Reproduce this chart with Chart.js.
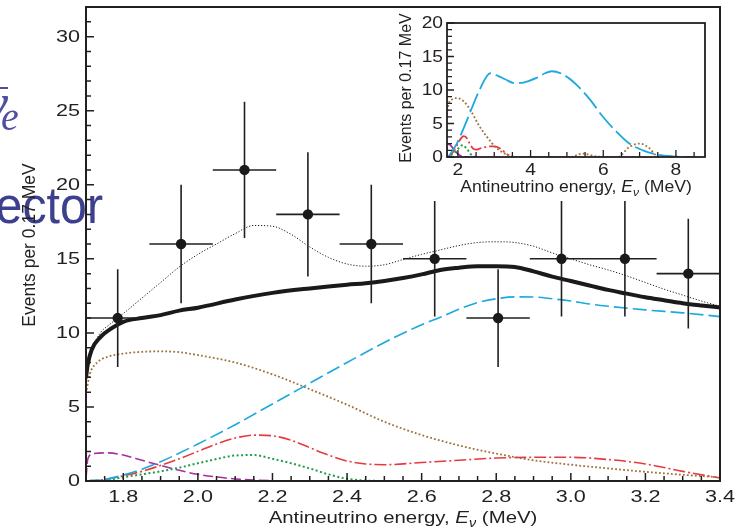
<!DOCTYPE html>
<html><head><meta charset="utf-8">
<script src="https://cdn.jsdelivr.net/npm/chart.js@4/dist/chart.umd.min.js"></script>
<style>
html,body{margin:0;padding:0;background:#fff;overflow:hidden}
#wrap{position:relative;width:748px;height:529px;background:#fff}
#main{position:absolute;left:0;top:0}
#inset{position:absolute;left:380px;top:0}
</style></head>
<body><div id="wrap"><canvas id="main" width="748" height="529"></canvas><canvas id="inset" width="340" height="200"></canvas></div>
<script>
// ---------- data ----------
const xTickLabels = [1.8, 2.0, 2.2, 2.4, 2.6, 2.8, 3.0, 3.2, 3.4];
const yTickLabels = [0, 5, 10, 15, 20, 25, 30];
const insetXTickLabels = [2, 4, 6, 8];
const insetYTickLabels = [0, 5, 10, 15, 20];

const binCenters = [1.785, 1.955, 2.125, 2.295, 2.465, 2.635, 2.805, 2.975, 3.145, 3.315];
const observedEvents = [11, 16, 21, 18, 16, 15, 11, 15, 15, 14];
const eventErrors = [3.3, 4.0, 4.6, 4.2, 4.0, 3.9, 3.3, 3.9, 3.9, 3.7];
const binHalfWidth = 0.085;

const totalX = [1.70, 1.705, 1.715, 1.74, 1.765, 1.80, 1.85, 1.90, 1.95, 2.00, 2.10, 2.20, 2.30, 2.40, 2.45, 2.50, 2.55, 2.60, 2.65, 2.70, 2.75, 2.80, 2.85, 2.90, 2.95, 3.00, 3.05, 3.10, 3.15, 3.20, 3.25, 3.30, 3.35, 3.40];
const totalY = [7.0, 7.9, 8.85, 9.75, 10.25, 10.75, 11.0, 11.2, 11.5, 11.7, 12.25, 12.7, 13.0, 13.25, 13.35, 13.5, 13.7, 13.95, 14.25, 14.4, 14.5, 14.5, 14.45, 14.15, 13.8, 13.5, 13.2, 12.9, 12.65, 12.4, 12.2, 12.0, 11.85, 11.72];

const oscX = [1.70, 1.705, 1.715, 1.74, 1.76, 1.80, 1.85, 1.90, 1.95, 2.00, 2.05, 2.10, 2.15, 2.20, 2.25, 2.30, 2.35, 2.40, 2.45, 2.50, 2.55, 2.60, 2.65, 2.70, 2.75, 2.80, 2.85, 2.90, 2.95, 3.00, 3.05, 3.10, 3.15, 3.20, 3.25, 3.30, 3.35, 3.40];
const oscY = [7.0, 7.9, 8.85, 10.05, 10.5, 11.3, 12.35, 13.4, 14.45, 15.3, 16.0, 16.7, 17.25, 17.2, 16.65, 15.8, 15.1, 14.65, 14.5, 14.6, 14.95, 15.3, 15.6, 15.9, 16.1, 16.15, 16.1, 15.85, 15.4, 15.0, 14.6, 14.25, 13.85, 13.4, 12.95, 12.55, 12.15, 11.8];

const reactorX = [1.70, 1.75, 1.80, 1.85, 1.90, 2.00, 2.10, 2.20, 2.30, 2.40, 2.50, 2.60, 2.65, 2.70, 2.75, 2.80, 2.85, 2.90, 2.95, 3.00, 3.05, 3.10, 3.20, 3.30, 3.40];
const reactorY = [0.0, 0.1, 0.4, 0.8, 1.3, 2.5, 3.8, 5.2, 6.6, 8.0, 9.35, 10.55, 11.05, 11.6, 12.05, 12.3, 12.43, 12.42, 12.3, 12.15, 11.95, 11.8, 11.55, 11.35, 11.1];

const alphaNX = [1.70, 1.71, 1.73, 1.76, 1.80, 1.85, 1.90, 1.95, 2.00, 2.10, 2.20, 2.30, 2.40, 2.50, 2.60, 2.70, 2.80, 2.90, 3.00, 3.10, 3.20, 3.30, 3.40];
const alphaNY = [5.9, 7.2, 8.0, 8.4, 8.6, 8.72, 8.75, 8.7, 8.5, 8.0, 7.2, 6.2, 5.15, 4.0, 3.1, 2.4, 1.85, 1.4, 1.1, 0.85, 0.62, 0.42, 0.25];

const uraniumX = [1.70, 1.75, 1.80, 1.85, 1.90, 1.95, 2.00, 2.05, 2.10, 2.15, 2.20, 2.25, 2.30, 2.35, 2.40, 2.45, 2.50, 2.60, 2.70, 2.80, 2.90, 3.00, 3.10, 3.20, 3.30, 3.40];
const uraniumY = [0.0, 0.1, 0.35, 0.65, 1.05, 1.5, 2.0, 2.5, 2.9, 3.1, 3.05, 2.75, 2.25, 1.75, 1.35, 1.15, 1.1, 1.25, 1.4, 1.55, 1.6, 1.6, 1.45, 1.15, 0.65, 0.2];

const thoriumX = [1.70, 1.75, 1.80, 1.85, 1.90, 1.95, 2.00, 2.05, 2.10, 2.15, 2.20, 2.25, 2.30, 2.35, 2.40, 2.45, 2.50];
const thoriumY = [0.0, 0.05, 0.25, 0.45, 0.65, 0.9, 1.2, 1.48, 1.72, 1.75, 1.5, 1.2, 0.85, 0.45, 0.15, 0.03, 0.0];

const purpleX = [1.70, 1.705, 1.72, 1.76, 1.80, 1.85, 1.90, 1.95, 2.00, 2.05, 2.10, 2.15, 2.20, 2.30];
const purpleY = [0.2, 1.5, 1.85, 1.9, 1.75, 1.4, 1.05, 0.72, 0.45, 0.27, 0.14, 0.06, 0.02, 0.0];

const insetReactorX = [1.74, 1.97, 2.25, 2.52, 2.80, 2.89, 3.10, 3.30, 3.57, 3.80, 4.16, 4.40, 4.58, 4.90, 5.26, 5.63, 5.99, 6.36, 6.72, 7.09, 7.45, 7.91, 8.46];
const insetReactorY = [0, 2.0, 5.5, 9.1, 12.1, 12.5, 12.1, 11.6, 11.0, 11.1, 11.8, 12.5, 12.8, 12.3, 10.8, 8.6, 6.0, 3.8, 2.0, 1.0, 0.4, 0.1, 0];
const insetAlphaNX = [1.70, 1.75, 1.84, 1.97, 2.16, 2.34, 2.57, 2.80, 3.07, 3.34, 3.60, 5.08, 5.44, 5.80, 6.40, 6.72, 7.00, 7.27, 7.45, 7.63];
const insetAlphaNY = [6.3, 8.0, 8.6, 8.8, 8.3, 7.05, 4.8, 3.0, 1.3, 0.4, 0, 0, 0.5, 0.1, 0, 1.5, 2.0, 1.3, 0.25, 0];

// ---------- helpers ----------
const INK = '#231f20';
const SANS = '"Liberation Sans", Arial, sans-serif';
function curve(label, xs, ys, color, width, dash, cap) {
  return { label, data: xs.map((x, i) => ({ x, y: ys[i] })), borderColor: color, borderWidth: width,
    borderDash: dash, pointRadius: 0, fill: false, cubicInterpolationMode: 'monotone',
    borderCapStyle: cap || 'butt', borderJoinStyle: 'round' };
}
function sText(ctx, text, x, y, font, sx, align, base) {
  ctx.save(); ctx.font = font; ctx.textAlign = align; ctx.textBaseline = base;
  ctx.translate(x, y); ctx.scale(sx, 1); ctx.fillText(text, 0, 0); ctx.restore();
}
function mixedText(ctx, parts, cx, base, sx) {
  ctx.save(); ctx.textAlign = 'left'; ctx.textBaseline = 'alphabetic';
  let total = 0; const ws = parts.map(p => { ctx.font = p.font; const w = ctx.measureText(p.t).width; total += w; return w; });
  ctx.translate(cx, base); ctx.scale(sx, 1);
  let x = -total / 2;
  parts.forEach((p, i) => { ctx.font = p.font; ctx.fillText(p.t, x, p.dy || 0); x += ws[i]; });
  ctx.restore();
}
function frameAndTicks(chart, o) {
  const { ctx, chartArea: a, scales: { x, y } } = chart;
  ctx.save();
  ctx.strokeStyle = INK; ctx.lineWidth = o.frame;
  ctx.strokeRect(a.left, a.top, a.right - a.left, a.bottom - a.top);
  ctx.lineWidth = o.tickW; ctx.beginPath();
  for (let k = Math.ceil(y.min / o.yMinor - 1e-9); k * o.yMinor <= y.max + 1e-9; k++) {
    const p = y.getPixelForValue(k * o.yMinor); const len = (k % o.yEvery === 0) ? o.major : o.minor;
    ctx.moveTo(a.left, p); ctx.lineTo(a.left + len, p);
  }
  for (let k = Math.ceil(x.min / o.xMinor - 1e-9); k * o.xMinor <= x.max + 1e-9; k++) {
    const p = x.getPixelForValue(k * o.xMinor); const len = (k % o.xEvery === 0) ? o.major : o.minor;
    ctx.moveTo(p, a.bottom); ctx.lineTo(p, a.bottom - len);
  }
  ctx.stroke();
  ctx.fillStyle = INK;
  y.ticks.forEach(t => sText(ctx, o.yFmt(t.value), a.left - o.yPad, y.getPixelForValue(t.value) + 1, o.tickFont, o.tickSx, 'right', 'middle'));
  x.ticks.forEach(t => sText(ctx, o.xFmt(t.value), x.getPixelForValue(t.value), a.bottom + o.xPad, o.tickFont, o.tickSx, 'center', 'top'));
  ctx.restore();
}

// ---------- main chart ----------
const mainPlugin = {
  id: 'mainDeco',
  beforeDraw(chart) {
    const ctx = chart.ctx; ctx.save();
    ctx.fillStyle = '#3d3f8f';
    sText(ctx, 'ector', 103, 223, '52px ' + SANS, 0.93, 'right', 'alphabetic');
    ctx.fillStyle = '#4f4f9f';
    sText(ctx, 'ν', 8, 122, 'italic 56px "Liberation Serif", serif', 1.0, 'right', 'alphabetic');
    ctx.fillRect(-4, 87, 12, 2);
    sText(ctx, 'e', 1, 130, 'italic 40px "Liberation Serif", serif', 1.0, 'left', 'alphabetic');
    ctx.restore();
  },
  beforeDatasetDraw(chart, args) {
    if (args.meta.type !== 'scatter') return;
    const { ctx, chartArea: a, scales: { x, y } } = chart;
    ctx.save(); ctx.beginPath(); ctx.rect(a.left, a.top, a.right - a.left, a.bottom - a.top); ctx.clip();
    ctx.strokeStyle = INK; ctx.lineWidth = 1.6; ctx.beginPath();
    binCenters.forEach((c, i) => {
      const px = x.getPixelForValue(c), py = y.getPixelForValue(observedEvents[i]);
      ctx.moveTo(x.getPixelForValue(c - binHalfWidth), py); ctx.lineTo(x.getPixelForValue(c + binHalfWidth), py);
      ctx.moveTo(px, y.getPixelForValue(observedEvents[i] + eventErrors[i])); ctx.lineTo(px, y.getPixelForValue(observedEvents[i] - eventErrors[i]));
    });
    ctx.stroke(); ctx.restore();
  },
  afterDraw(chart) {
    const ctx = chart.ctx;
    frameAndTicks(chart, { frame: 2, tickW: 1.5, major: 8, minor: 5, yMinor: 1, yEvery: 5, xMinor: 0.05, xEvery: 4,
      tickFont: '16px ' + SANS, tickSx: 1.35, yPad: 6, xPad: 9, yFmt: v => String(v), xFmt: v => v.toFixed(1) });
    ctx.save(); ctx.fillStyle = INK;
    const f = '17px ' + SANS, fi = 'italic 17px ' + SANS, fs = 'italic 12px ' + SANS;
    mixedText(ctx, [{ t: 'Antineutrino energy, ', font: f }, { t: 'E', font: fi }, { t: 'ν', font: fs, dy: 4 }, { t: ' (MeV)', font: f }],
      (chart.chartArea.left + chart.chartArea.right) / 2, 523, 1.2);
    ctx.translate(35, 245); ctx.rotate(-Math.PI / 2);
    ctx.font = '17.5px ' + SANS; ctx.textAlign = 'center'; ctx.textBaseline = 'alphabetic';
    ctx.fillText('Events per 0.17 MeV', 0, 0);
    ctx.restore();
  }
};

new Chart(document.getElementById('main'), {
  type: 'line',
  data: { datasets: [
    curve('Total expected', totalX, totalY, '#1a1a1a', 4, [], 'round'),
    curve('Total with oscillation', oscX, oscY, '#1a1a1a', 1, [1.2, 1.8]),
    curve('Reactor', reactorX, reactorY, '#1ba9de', 1.6, [14, 5]),
    curve('(alpha,n)', alphaNX, alphaNY, '#a0703c', 1.8, [1.8, 2.2]),
    curve('U', uraniumX, uraniumY, '#e63a40', 1.6, [12, 3, 2, 3]),
    curve('Th', thoriumX, thoriumY, '#1f9e4a', 2, [2, 2.5]),
    curve('Other', purpleX, purpleY, '#a5309f', 1.6, [10, 4]),
    { type: 'scatter', label: 'Data', order: -1, data: binCenters.map((x, i) => ({ x, y: observedEvents[i] })),
      pointRadius: 5.2, pointBackgroundColor: '#1a1a1a', pointBorderWidth: 0, showLine: false }
  ] },
  options: {
    responsive: false, animation: false, devicePixelRatio: 1,
    layout: { padding: { left: 0, right: 28, top: 7, bottom: 0 } },
    plugins: { legend: { display: false }, tooltip: { enabled: false } },
    scales: {
      x: { type: 'linear', min: 1.7, max: 3.4, grid: { display: false, drawTicks: false }, border: { display: false },
        ticks: { display: false }, afterBuildTicks: s => { s.ticks = xTickLabels.map(v => ({ value: v })); }, afterFit: s => { s.height = 48; } },
      y: { type: 'linear', min: 0, max: 32, grid: { display: false, drawTicks: false }, border: { display: false },
        ticks: { display: false }, afterBuildTicks: s => { s.ticks = yTickLabels.map(v => ({ value: v })); }, afterFit: s => { s.width = 86; } }
    }
  },
  plugins: [mainPlugin]
});

// ---------- inset ----------
const insetPlugin = {
  id: 'insetDeco',
  afterDraw(chart) {
    const ctx = chart.ctx;
    frameAndTicks(chart, { frame: 1.8, tickW: 1.3, major: 7, minor: 5, yMinor: 1, yEvery: 5, xMinor: 0.5, xEvery: 4,
      tickFont: '16px ' + SANS, tickSx: 1.2, yPad: 4, xPad: 6, yFmt: v => String(v), xFmt: v => String(v) });
    ctx.save(); ctx.fillStyle = INK;
    const f = '16px ' + SANS, fi = 'italic 16px ' + SANS, fs = 'italic 11px ' + SANS;
    mixedText(ctx, [{ t: 'Antineutrino energy, ', font: f }, { t: 'E', font: fi }, { t: 'ν', font: fs, dy: 4 }, { t: ' (MeV)', font: f }],
      196, 192, 1.1);
    ctx.translate(31, 88); ctx.rotate(-Math.PI / 2);
    ctx.font = '16px ' + SANS; ctx.textAlign = 'center'; ctx.textBaseline = 'alphabetic';
    ctx.fillText('Events per 0.17 MeV', 0, 0);
    ctx.restore();
  }
};

new Chart(document.getElementById('inset'), {
  type: 'line',
  data: { datasets: [
    curve('Reactor', insetReactorX, insetReactorY, '#1ba9de', 1.8, [20, 5]),
    curve('(alpha,n)', insetAlphaNX, insetAlphaNY, '#a0703c', 1.8, [1.8, 2.2]),
    curve('U', uraniumX, uraniumY, '#e63a40', 1.8, [12, 3, 2, 3]),
    curve('Th', thoriumX, thoriumY, '#1f9e4a', 2, [2, 2.5]),
    curve('Other', purpleX, purpleY, '#a5309f', 1.8, [8, 3])
  ] },
  options: {
    responsive: false, animation: false, devicePixelRatio: 1,
    layout: { padding: { left: 0, right: 15, top: 23, bottom: 0 } },
    plugins: { legend: { display: false }, tooltip: { enabled: false } },
    scales: {
      x: { type: 'linear', min: 1.7, max: 8.8, grid: { display: false, drawTicks: false }, border: { display: false },
        ticks: { display: false }, afterBuildTicks: s => { s.ticks = insetXTickLabels.map(v => ({ value: v })); }, afterFit: s => { s.height = 43; } },
      y: { type: 'linear', min: 0, max: 20, grid: { display: false, drawTicks: false }, border: { display: false },
        ticks: { display: false }, afterBuildTicks: s => { s.ticks = insetYTickLabels.map(v => ({ value: v })); }, afterFit: s => { s.width = 67; } }
    }
  },
  plugins: [insetPlugin]
});
</script>
</body></html>
